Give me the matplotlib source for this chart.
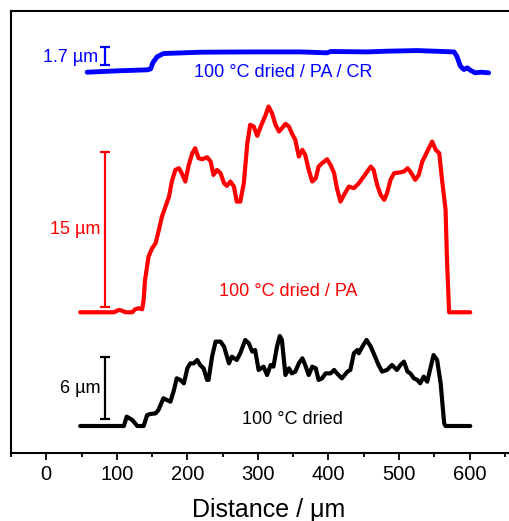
import numpy as np
import matplotlib.pyplot as plt
from matplotlib.ticker import MultipleLocator

plt.rcParams['font.family'] = ['Liberation Sans', 'DejaVu Sans']

# ------------------------
# profile data (distance in um, height above baseline in um)
# ------------------------
dist_black = [48, 110, 114, 122, 129, 138, 143, 148, 155, 159, 166, 171, 176, 181, 185, 190, 195,
              200, 204, 209, 214, 218, 223, 228, 230, 235, 240, 247, 252, 259, 263, 270, 275, 282,
              287, 292, 296, 301, 308, 313, 318, 322, 327, 331, 334, 339, 344, 348, 353, 358, 363,
              367, 372, 377, 382, 386, 391, 396, 403, 408, 412, 419, 427, 431, 436, 441, 443, 448,
              454, 460, 464, 471, 476, 483, 490, 497, 502, 507, 512, 516, 521, 526, 530, 535, 540,
              545, 549, 554, 559, 564, 566, 601]
h_black = [0, 0, 0.91, 0.58, 0, 0, 1.07, 1.17, 1.23, 1.55, 2.69, 2.52, 2.36, 3.50, 4.63, 4.47, 4.14,
           5.60, 6.08, 6.08, 6.41, 5.92, 5.60, 4.47, 4.47, 6.73, 8.19, 8.19, 7.70, 6.08, 6.73, 6.41,
           7.06, 8.35, 8.03, 7.22, 7.38, 5.44, 5.76, 4.95, 5.92, 5.76, 7.70, 8.74, 8.35, 4.95, 5.60,
           5.11, 5.28, 6.08, 6.57, 5.92, 4.95, 5.76, 5.60, 4.47, 4.63, 5.11, 5.11, 5.44, 5.11, 4.63,
           5.28, 5.44, 7.06, 7.38, 7.06, 7.70, 8.35, 7.70, 7.06, 5.92, 5.28, 5.44, 5.92, 5.44, 5.92,
           6.25, 5.28, 5.11, 4.63, 4.47, 4.14, 4.79, 4.30, 5.76, 6.89, 6.41, 4.14, 0.26, 0, 0]

dist_red = [48, 96, 103, 107, 112, 122, 126, 131, 136, 138, 140, 145, 150, 155, 159, 164, 169, 174,
            178, 183, 188, 192, 197, 202, 207, 211, 216, 221, 228, 233, 237, 242, 247, 252, 256,
            261, 266, 270, 275, 280, 285, 289, 294, 299, 304, 311, 315, 320, 325, 330, 334, 339,
            344, 348, 353, 358, 363, 367, 372, 377, 382, 386, 391, 398, 403, 408, 412, 417, 422,
            429, 436, 443, 450, 455, 460, 464, 469, 474, 479, 483, 488, 493, 500, 507, 512, 516,
            523, 528, 533, 540, 547, 552, 557, 561, 566, 568, 571, 601]
h_red = [0, 0, 0.23, 0.16, 0, 0, 0.29, 0.39, 0.29, 1.20, 3.14, 5.40, 6.21, 6.70, 7.83, 9.29, 10.26,
         11.23, 12.69, 13.82, 13.98, 13.50, 12.69, 14.30, 15.44, 15.92, 14.95, 14.85, 15.05, 14.63,
         13.33, 13.82, 13.50, 12.52, 12.27, 12.69, 12.20, 10.74, 10.74, 12.52, 16.41, 18.19, 18.03,
         17.12, 18.03, 19.16, 19.97, 19.32, 18.19, 17.54, 17.86, 18.28, 18.03, 17.38, 16.73, 15.11,
         15.76, 15.28, 13.82, 12.69, 13.01, 14.14, 14.47, 14.85, 14.30, 13.50, 12.04, 10.74, 11.39,
         12.20, 12.04, 12.52, 13.17, 13.66, 14.14, 13.82, 12.36, 11.39, 10.91, 11.55, 12.85, 13.50,
         13.56, 13.66, 13.98, 13.66, 12.85, 13.33, 14.63, 15.60, 16.57, 15.76, 15.44, 12.85, 9.94,
         5.08, 0, 0]

dist_blue = [58, 100, 143, 148, 151, 157, 166, 218, 289, 360, 398, 403, 455, 483, 526, 578, 582,
             587, 592, 597, 601, 608, 616, 627]
h_blue = [0, 0.13, 0.23, 0.32, 0.91, 1.49, 1.81, 1.94, 1.97, 1.97, 1.88, 2.01, 1.97, 2.04, 2.10,
          1.97, 1.55, 0.58, 0.26, 0.42, 0.19, -0.06, 0, -0.06]

# baselines (vertical offsets of the stacked profiles, um)
base_black = 2.62
base_red = 13.66
base_blue = 36.96

labels = ["100 \u00b0C dried", "100 \u00b0C dried / PA", "100 \u00b0C dried / PA / CR"]
bars = [6, 15, 1.7]

fig = plt.figure(figsize=(5.09, 5.21), dpi=100)
ax = fig.add_axes([11 / 509, 1 - 453 / 521, 515 / 509, 442 / 521])

ax.plot(dist_black, np.array(h_black) + base_black, color='black', lw=3,
        solid_joinstyle='round', solid_capstyle='round')
ax.plot(dist_red, np.array(h_red) + base_red, color='#ff0000', lw=3,
        solid_joinstyle='round', solid_capstyle='round')
ax.plot(dist_blue, np.array(h_blue) + base_blue, color='#0000ff', lw=3.5,
        solid_joinstyle='round', solid_capstyle='round')

# scale bars
bar_x = 83
bar_bottoms = [3.27, 14.2, 37.67]
colors = ['black', '#ff0000', '#0000ff']
for b, h, c in zip(bar_bottoms, bars, colors):
    ax.errorbar(bar_x, b + h / 2, yerr=h / 2, fmt='none', ecolor=c, elinewidth=1.6,
                capsize=3.5, capthick=1.6)

ax.text(bar_x - 6, 3.27 + 3, "6 \u00b5m", color='black', fontsize=13, ha='right', va='center')
ax.text(bar_x - 6, 14.2 + 7.5, "15 \u00b5m", color='#ff0000', fontsize=13, ha='right', va='center')
ax.text(bar_x - 9, 38.4, "1.7 \u00b5m", color='#0000ff', fontsize=13, ha='right', va='center')

# sample labels
ax.text(349, 3.25, labels[0], color='black', fontsize=13, ha='center', va='center')
ax.text(343, 15.65, labels[1], color='#ff0000', fontsize=13, ha='center', va='center')
ax.text(336, 36.9, labels[2], color='#0000ff', fontsize=13, ha='center', va='center')

ax.set_xlim(-50, 680)
ax.set_ylim(0, 42.9)
ax.xaxis.set_major_locator(MultipleLocator(100))
ax.xaxis.set_minor_locator(MultipleLocator(50))
ax.set_yticks([])
ax.tick_params(axis='x', which='major', direction='out', length=5, width=1.3, labelsize=14.5, pad=4)
ax.tick_params(axis='x', which='minor', direction='out', length=3, width=1.3)
for s in ax.spines.values():
    s.set_linewidth(1.5)
ax.set_xticks([0, 100, 200, 300, 400, 500, 600])
ax.set_xlabel("Distance / \u03bcm", fontsize=18, labelpad=10)

plt.savefig("out.png", dpi=100)
